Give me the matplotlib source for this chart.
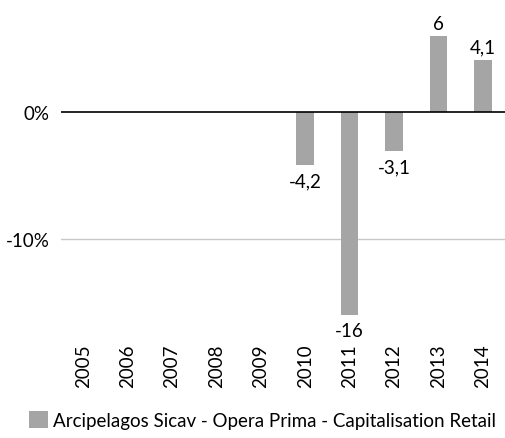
import matplotlib
matplotlib.use("Agg")
from matplotlib import pyplot as plt
import numpy as np

years = ["2005", "2006", "2007", "2008", "2009", "2010", "2011", "2012", "2013", "2014"]
values = [np.nan, np.nan, np.nan, np.nan, np.nan, -4.2, -16.0, -3.1, 6.0, 4.1]
labels = ["", "", "", "", "", "-4,2", "-16", "-3,1", "6", "4,1"]
series_name = "Arcipelagos Sicav - Opera Prima - Capitalisation Retail"

plt.rcParams['font.family'] = ['Lato', 'DejaVu Sans']
fs = 13.5

W, H = 505, 439
fig = plt.figure(figsize=(W / 100, H / 100), dpi=100)
# axes in pixel coords: left 61, right 505, top 5, bottom 340
ax = fig.add_axes([61 / W, 1 - 340 / H, (505 - 61) / W, (340 - 5) / H])

x = np.arange(len(years))
bar_color = "#a5a5a5"
bars = ax.bar(x, values, width=0.4, color=bar_color, zorder=2, label=series_name)

for xi, v, lab in zip(x, values, labels):
    if np.isnan(v):
        continue
    if v >= 0:
        ax.annotate(lab, (xi, v), xytext=(0, 3), textcoords="offset points",
                    ha="center", va="bottom", fontsize=fs)
    else:
        ax.annotate(lab, (xi, v), xytext=(0, -5), textcoords="offset points",
                    ha="center", va="top", fontsize=fs)

ax.set_xlim(-0.5, len(years) - 0.5)
ax.set_ylim(-17.9, 8.5)
ax.set_yticks([0, -10])
ax.set_yticklabels(["0%", "-10%"], fontsize=fs)
ax.set_xticks(x)
ax.set_xticklabels(years, rotation=90, fontsize=fs)
ax.tick_params(axis="both", length=0)
ax.tick_params(axis="x", pad=3)
ax.tick_params(axis="y", pad=8)

ax.axhline(-10, color="#c8c8c8", lw=1, zorder=1)
ax.axhline(0, color="black", lw=1.2, zorder=3)

for s in ax.spines.values():
    s.set_visible(False)

fig.legend(handles=[bars], labels=[series_name], loc="lower center",
           bbox_to_anchor=(0.52, 0.0), frameon=False, fontsize=fs,
           handlelength=1.0, handleheight=1.0, handletextpad=0.3,
           borderaxespad=0.1)

fig.savefig("out.png", dpi=100)
